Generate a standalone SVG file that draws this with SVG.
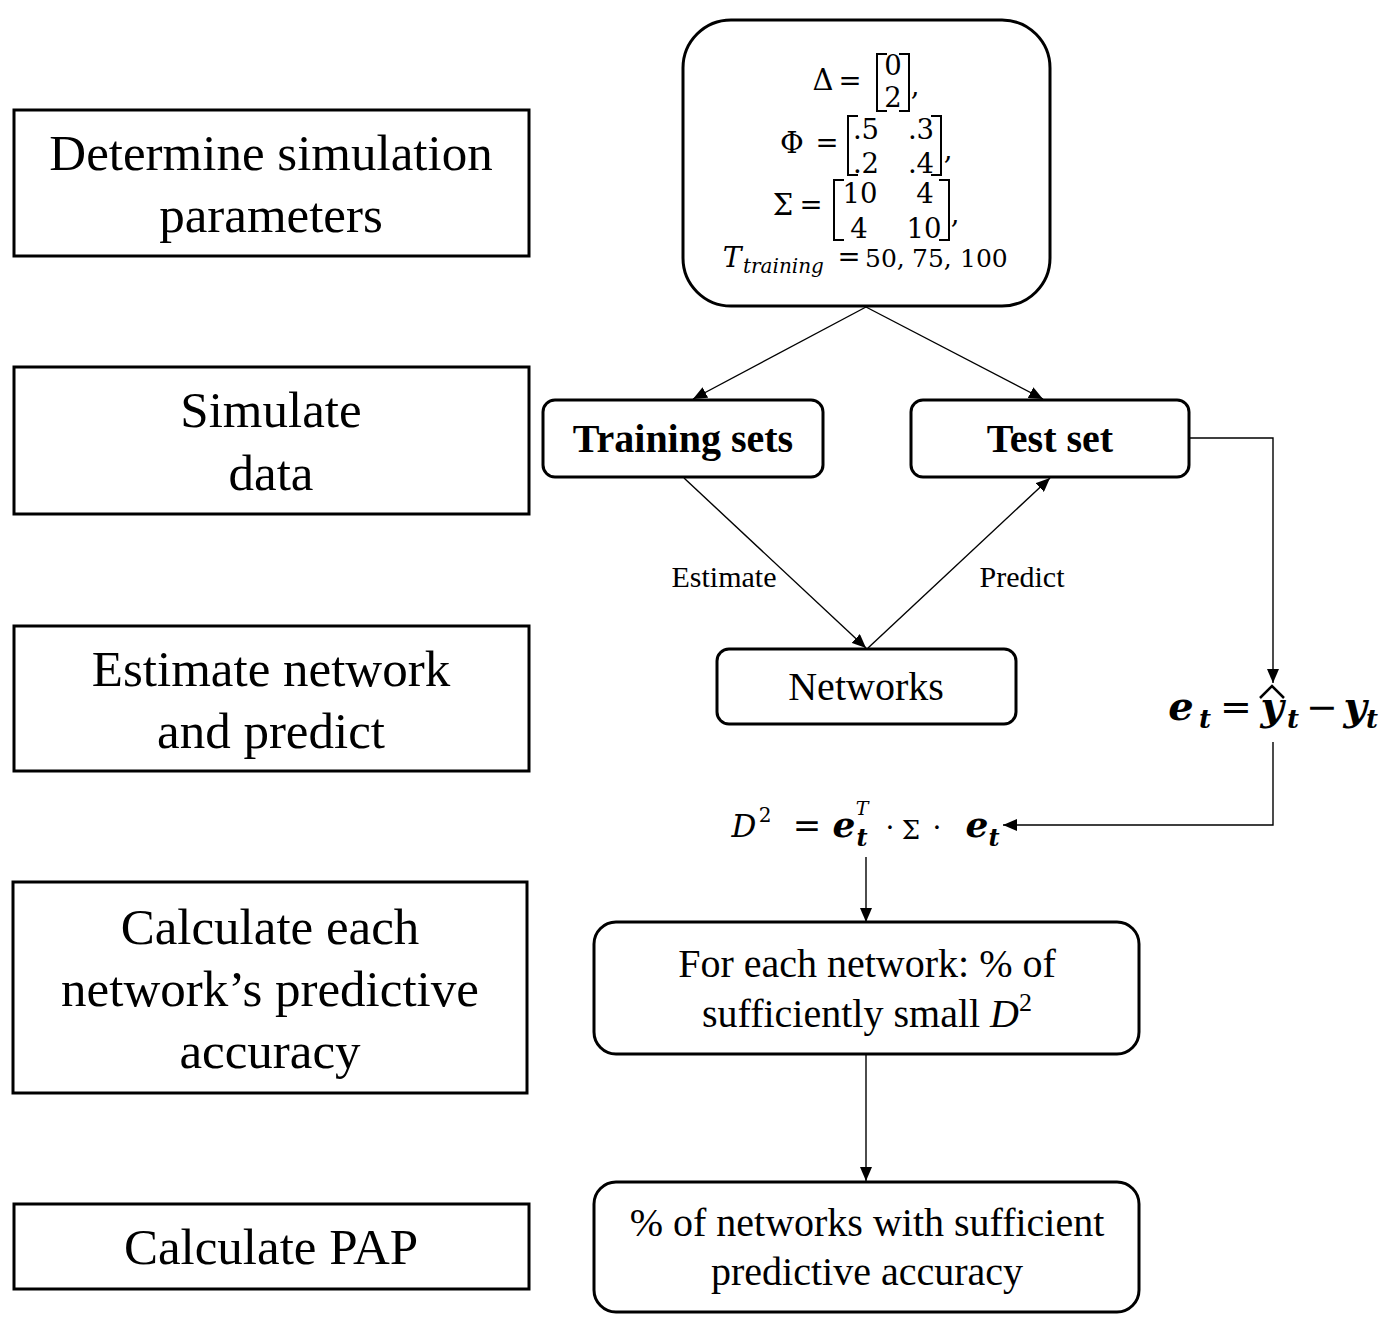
<svg xmlns="http://www.w3.org/2000/svg" width="1380" height="1340" viewBox="0 0 1380 1340">
<style>
.lbox{fill:#fff;stroke:#000;stroke-width:3}
.rbox{fill:#fff;stroke:#000;stroke-width:3}
.lt{font-family:"Liberation Serif","Times New Roman",serif;font-size:51px;text-anchor:middle;fill:#000}
.bt{font-family:"Liberation Serif","Times New Roman",serif;font-size:40px;font-weight:bold;text-anchor:middle;fill:#000}
.rt{font-family:"Liberation Serif","Times New Roman",serif;font-size:40px;text-anchor:middle;fill:#000}
.lab{font-family:"Liberation Serif","Times New Roman",serif;font-size:30px;text-anchor:middle;fill:#000}
.m{font-family:"DejaVu Serif","Liberation Serif",serif;font-size:27.5px;text-anchor:middle;fill:#000}
.ms{text-anchor:start}
.mi{font-style:italic}
.mb{font-weight:bold;font-style:italic}
.br{fill:none;stroke:#000;stroke-width:2}
.conn{fill:none;stroke:#000;stroke-width:1.4}
</style>
<defs>
<marker id="ah" markerUnits="userSpaceOnUse" markerWidth="15" markerHeight="12" refX="14" refY="6" orient="auto">
<path d="M0,0 L14,6 L0,12 z" fill="#000"/>
</marker>
</defs>

<g id="connectors">
<path class="conn" d="M866,307 L693,399" marker-end="url(#ah)"/>
<path class="conn" d="M866,307 L1043,399" marker-end="url(#ah)"/>
<path class="conn" d="M684,478 L866,648" marker-end="url(#ah)"/>
<path class="conn" d="M868,648 L1050,478" marker-end="url(#ah)"/>
<path class="conn" d="M1189,438 H1273 V683" marker-end="url(#ah)"/>
<path class="conn" d="M1273,742 V825 H1003" marker-end="url(#ah)"/>
<path class="conn" d="M866,857 V922" marker-end="url(#ah)"/>
<path class="conn" d="M866,1055 V1181" marker-end="url(#ah)"/>
<text class="lab" x="724" y="587">Estimate</text>
<text class="lab" x="1022" y="587">Predict</text>
</g>

<g id="step1">
<rect class="lbox" x="14" y="110" width="515" height="146"/>
<text class="lt" x="271" y="170">Determine simulation</text>
<text class="lt" x="271" y="232">parameters</text>
</g>
<g id="step2">
<rect class="lbox" x="14" y="367" width="515" height="147"/>
<text class="lt" x="271" y="427">Simulate</text>
<text class="lt" x="271" y="490">data</text>
</g>
<g id="step3">
<rect class="lbox" x="14" y="626" width="515" height="145"/>
<text class="lt" x="271" y="686">Estimate network</text>
<text class="lt" x="271" y="748">and predict</text>
</g>
<g id="step4">
<rect class="lbox" x="13" y="882" width="514" height="211"/>
<text class="lt" x="270" y="944">Calculate each</text>
<text class="lt" x="270" y="1006">network’s predictive</text>
<text class="lt" x="270" y="1068">accuracy</text>
</g>
<g id="step5">
<rect class="lbox" x="14" y="1204" width="515" height="85"/>
<text class="lt" x="271" y="1264">Calculate PAP</text>
</g>

<g id="params">
<rect class="rbox" x="683" y="20" width="367" height="286" rx="48"/>
<!-- Delta -->
<text class="m" x="823" y="90" style="font-size:29px">Δ</text>
<text class="m" x="850" y="90">=</text>
<path class="br" d="M887,54 H877 V111 H887"/>
<path class="br" d="M899,54 H909 V111 H899"/>
<text class="m" x="893" y="75">0</text>
<text class="m" x="893" y="107">2</text>
<text class="m" x="915" y="95">,</text>
<!-- Phi -->
<text class="m" x="792" y="153" style="font-size:29px">Φ</text>
<text class="m" x="827" y="152">=</text>
<path class="br" d="M858,116 H848 V175 H858"/>
<path class="br" d="M931,116 H941 V175 H931"/>
<text class="m" x="866" y="139">.5</text>
<text class="m" x="921" y="139">.3</text>
<text class="m" x="866" y="173">.2</text>
<text class="m" x="921" y="173">.4</text>
<text class="m" x="948" y="159">,</text>
<!-- Sigma -->
<text class="m" x="783" y="215" style="font-size:29px">Σ</text>
<text class="m" x="811" y="214">=</text>
<path class="br" d="M844,180 H834 V240 H844"/>
<path class="br" d="M939,180 H949 V240 H939"/>
<text class="m" x="860" y="203">10</text>
<text class="m" x="925" y="203">4</text>
<text class="m" x="859" y="238">4</text>
<text class="m" x="924" y="238">10</text>
<text class="m" x="955" y="223">,</text>
<!-- T -->
<text class="m mi" x="732" y="267" style="font-size:28px">T</text>
<text class="m mi ms" x="743" y="273" style="font-size:20px">training</text>
<text class="m" x="849" y="266">=</text>
<text class="m ms" x="865" y="267" style="font-size:25px">50,</text>
<text class="m ms" x="912" y="267" style="font-size:25px">75,</text>
<text class="m ms" x="960" y="267" style="font-size:25px">100</text>
</g>

<g id="training">
<rect class="rbox" x="543" y="400" width="280" height="77" rx="12"/>
<text class="bt" x="683" y="452">Training sets</text>
</g>
<g id="test">
<rect class="rbox" x="911" y="400" width="278" height="77" rx="12"/>
<text class="bt" x="1050" y="452">Test set</text>
</g>
<g id="networks">
<rect class="rbox" x="717" y="649" width="299" height="75" rx="12"/>
<text class="rt" x="866" y="700">Networks</text>
</g>

<g id="error">
<text class="m mb" x="1181" y="720" style="font-size:40px">e</text>
<text class="m mb" x="1205" y="728" style="font-size:26px">t</text>
<text class="m" x="1236" y="720" style="font-size:38px">=</text>
<text class="m mb" x="1272" y="720" style="font-size:40px">y</text>
<path d="M1260,698 L1272,686 L1284,698" fill="none" stroke="#000" stroke-width="2.5"/>
<text class="m mb" x="1293" y="728" style="font-size:26px">t</text>
<text class="m" x="1322" y="720" style="font-size:38px">−</text>
<text class="m mb" x="1355" y="720" style="font-size:40px">y</text>
<text class="m mb" x="1372" y="728" style="font-size:26px">t</text>
</g>

<g id="dsq">
<text class="m mi" x="744" y="837" style="font-size:31px">D</text>
<text class="m" x="765" y="822" style="font-size:20px">2</text>
<text class="m" x="807" y="837" style="font-size:34px">=</text>
<text class="m mb" x="844" y="837" style="font-size:36px">e</text>
<text class="m mi" x="862" y="815" style="font-size:19px">T</text>
<text class="m mb" x="862" y="846" style="font-size:24px">t</text>
<text class="m" x="890" y="837" style="font-size:28px">·</text>
<text class="m" x="911" y="839" style="font-size:26px">Σ</text>
<text class="m" x="937" y="837" style="font-size:28px">·</text>
<text class="m mb" x="977" y="837" style="font-size:36px">e</text>
<text class="m mb" x="994" y="846" style="font-size:24px">t</text>
</g>

<g id="foreach">
<rect class="rbox" x="594" y="922" width="545" height="132" rx="22"/>
<text class="rt" x="867" y="977">For each network: % of</text>
<text class="rt" x="867" y="1027">sufficiently small <tspan font-style="italic">D</tspan><tspan font-size="26px" dy="-16">2</tspan></text>
</g>

<g id="pap">
<rect class="rbox" x="594" y="1182" width="545" height="130" rx="22"/>
<text class="rt" x="867" y="1236">% of networks with sufficient</text>
<text class="rt" x="867" y="1285">predictive accuracy</text>
</g>
</svg>
